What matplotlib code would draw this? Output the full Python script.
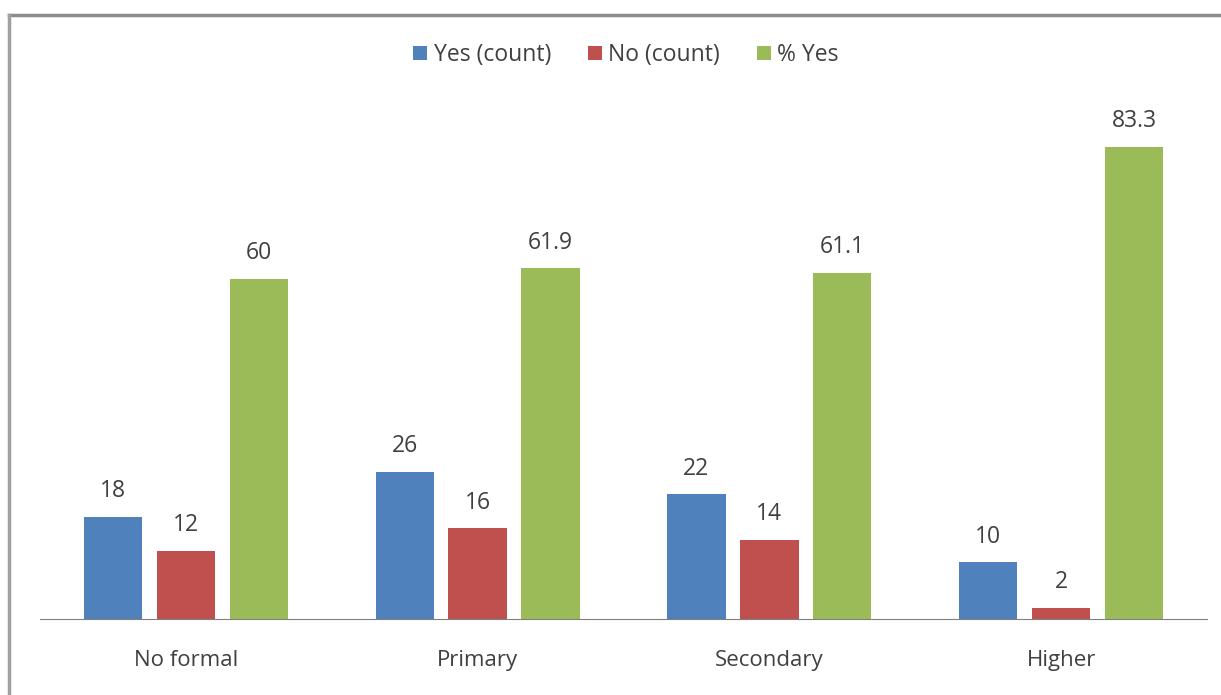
import matplotlib.pyplot as plt
import numpy as np
from matplotlib.lines import Line2D

categories = ["No formal", "Primary", "Secondary", "Higher"]
yes_count = [18, 26, 22, 10]
no_count = [12, 16, 14, 2]
pct_yes = [60, 61.9, 61.1, 83.3]
series_names = ["Yes (count)", "No (count)", "% Yes"]
colors = ["#4F81BD", "#C0504D", "#9BBB59"]

plt.rcParams['font.family'] = ['Open Sans', 'DejaVu Sans']
txt = "#404040"

fig = plt.figure(figsize=(12.21, 6.95), dpi=100)
ax = fig.add_axes([40 / 1221, 76 / 695, 1167 / 1221, 510 / 695])

x = np.arange(len(categories))
w = 0.2
for i, (vals, c) in enumerate(zip([yes_count, no_count, pct_yes], colors)):
    bars = ax.bar(x + (i - 1) * 0.25, vals, w, color=c, label=series_names[i])
    for b, v in zip(bars, vals):
        ax.annotate(f"{v:g}", (b.get_x() + b.get_width() / 2, v),
                    xytext=(0, 18.5), textcoords='offset points',
                    ha='center', va='center', fontsize=16.5, color=txt)

ax.set_xlim(-0.5, 3.5)
ax.set_ylim(0, 90)
ax.set_yticks([])
ax.set_xticks(x)
ax.set_xticklabels(categories, fontsize=16, color=txt)
ax.tick_params(axis='x', length=0, pad=22)
for s in ['top', 'right', 'left']:
    ax.spines[s].set_visible(False)
ax.spines['bottom'].set_color('#808080')

ax.legend(loc='center', bbox_to_anchor=(626 / 1221, 1 - 55 / 695),
          bbox_transform=fig.transFigure, ncol=3, frameon=False,
          fontsize=16.5, handlelength=0.6, handleheight=0.6,
          handletextpad=0.3, columnspacing=1.6, labelcolor=txt)

# chart border
fig.add_artist(Line2D([9 / 1221, 1], [1 - 15 / 695, 1 - 15 / 695],
                      transform=fig.transFigure, color='#8c8c8c', lw=2.5))
fig.add_artist(Line2D([9 / 1221, 9 / 1221], [0, 1 - 15 / 695],
                      transform=fig.transFigure, color='#a0a0a0', lw=2.5))

fig.savefig("out.png", dpi=100)
